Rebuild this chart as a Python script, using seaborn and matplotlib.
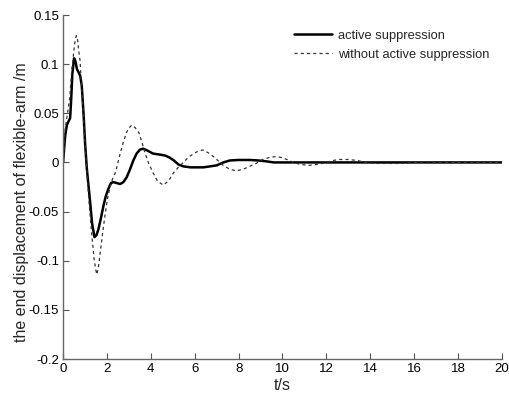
import numpy as np
import pandas as pd
import matplotlib
matplotlib.use("Agg")
import matplotlib.pyplot as plt
import seaborn as sns

t_active = [0.0, 0.05, 0.1, 0.17, 0.25, 0.32, 0.37, 0.42, 0.5, 0.56, 0.63, 0.7, 0.78, 0.85,
            0.93, 1.0, 1.08, 1.15, 1.23, 1.32, 1.43, 1.52, 1.61, 1.72, 1.84, 1.95, 2.06,
            2.18, 2.29, 2.45, 2.6, 2.75, 2.9, 3.05, 3.2, 3.35, 3.5, 3.66, 3.85, 4.1, 4.4,
            4.65, 4.85, 5.05, 5.25, 5.48, 5.8, 6.1, 6.4, 6.7, 7.0, 7.3, 7.6, 8.0, 8.5, 8.9,
            9.3, 9.6, 10.0, 12.0, 14.0, 16.0, 18.0, 20.0]
y_active = [0.0, 0.015, 0.028, 0.038, 0.042, 0.045, 0.065, 0.09, 0.106, 0.103, 0.095, 0.092,
            0.088, 0.078, 0.05, 0.02, -0.006, -0.022, -0.04, -0.062, -0.076, -0.074, -0.068,
            -0.057, -0.044, -0.034, -0.027, -0.021, -0.02, -0.021, -0.022, -0.02, -0.015,
            -0.007, 0.002, 0.009, 0.013, 0.014, 0.012, 0.009, 0.008, 0.007, 0.005, 0.002,
            -0.002, -0.004, -0.005, -0.005, -0.005, -0.004, -0.003, 0.0, 0.002, 0.0025,
            0.0025, 0.002, 0.001, 0.0, 0.0, 0.0, 0.0, 0.0, 0.0, 0.0]

t_passive = [0.0, 0.05, 0.1, 0.2, 0.3, 0.38, 0.45, 0.52, 0.6, 0.66, 0.72, 0.77, 0.85, 0.93,
             1.0, 1.08, 1.18, 1.3, 1.42, 1.53, 1.6, 1.69, 1.8, 1.92, 2.03, 2.14, 2.25, 2.37,
             2.48, 2.6, 2.75, 2.9, 3.0, 3.13, 3.3, 3.46, 3.6, 3.74, 3.9, 4.11, 4.3, 4.56,
             4.8, 5.02, 5.25, 5.48, 5.7, 5.95, 6.2, 6.39, 6.6, 6.85, 7.1, 7.3, 7.6, 7.9, 8.2,
             8.5, 8.8, 9.1, 9.4, 9.7, 9.95, 10.2, 10.5, 10.8, 11.2, 11.6, 12.0, 12.3, 12.6,
             13.0, 13.4, 13.8, 14.2, 14.8, 15.4, 16.0, 16.6, 17.2, 18.0, 19.0, 20.0]
y_passive = [0.0, 0.02, 0.035, 0.05, 0.065, 0.09, 0.105, 0.12, 0.129, 0.125, 0.112, 0.104,
             0.075, 0.046, 0.018, -0.008, -0.04, -0.072, -0.1, -0.114, -0.108, -0.092,
             -0.072, -0.052, -0.036, -0.025, -0.017, -0.011, -0.002, 0.009, 0.021, 0.031,
             0.035, 0.038, 0.035, 0.03, 0.02, 0.009, -0.001, -0.011, -0.019, -0.023, -0.019,
             -0.011, -0.005, 0.0, 0.005, 0.009, 0.012, 0.0126, 0.01, 0.006, 0.001, -0.003,
             -0.007, -0.0085, -0.007, -0.004, -0.001, 0.003, 0.005, 0.006, 0.005, 0.003, 0.0,
             -0.002, -0.003, -0.002, 0.0, 0.002, 0.003, 0.003, 0.002, 0.0, -0.001, -0.001,
             -0.001, 0.0, 0.0005, 0.0, 0.0, 0.0, 0.0]

x_ticks = list(range(0, 21, 2))
y_ticks = [-0.2, -0.15, -0.1, -0.05, 0, 0.05, 0.1, 0.15]
y_tick_labels = ["-0.2", "-0.15", "-0.1", "-0.05", "0", "0.05", "0.1", "0.15"]

sns.set_style("white")
plt.rcParams["font.family"] = ["Liberation Sans", "DejaVu Sans"]

fig = plt.figure(figsize=(5.09, 4.0), dpi=100)
ax = fig.add_axes([0.124, 0.1025, 0.862, 0.86])

sns.lineplot(x=t_active, y=y_active, ax=ax, color="black", linewidth=1.8,
             label="active suppression")
sns.lineplot(x=t_passive, y=y_passive, ax=ax, color="#333333", linewidth=0.9,
             linestyle=(0, (2.5, 2.5)), label="without active suppression")

ax.set_xlim(0, 20)
ax.set_ylim(-0.2, 0.15)
ax.set_xticks(x_ticks)
ax.set_yticks(y_ticks)
ax.set_yticklabels(y_tick_labels)
ax.tick_params(bottom=True, left=True, direction="in", length=4, width=0.8, labelsize=9.5,
               colors="#555555", labelcolor="black", pad=3)
ax.set_xlabel("t/s", fontsize=11.5, labelpad=2)
ax.set_ylabel("the end displacement of flexible-arm /m", fontsize=11.5)
ax.yaxis.set_label_coords(-0.078, 0.455)

sns.despine(ax=ax)
for s in ("left", "bottom"):
    ax.spines[s].set_color("#666666")
    ax.spines[s].set_linewidth(1.0)

ax.legend(loc="upper right", bbox_to_anchor=(0.997, 0.991), frameon=False, fontsize=9.3,
          handlelength=3.0, handletextpad=0.4, labelspacing=0.55)

fig.savefig("out.png", dpi=100)
